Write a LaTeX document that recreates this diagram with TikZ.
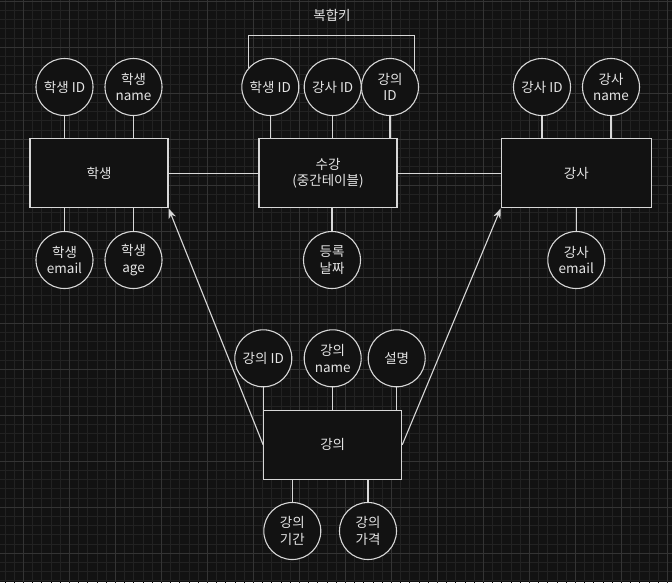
\documentclass[tikz,border=0pt]{standalone}
\usepackage{fontspec}
\setmainfont{Noto Sans CJK KR}
\usetikzlibrary{arrows.meta}
\definecolor{fondo}{RGB}{18,18,18}
\definecolor{rejilla}{RGB}{34,34,34}
\definecolor{rejillamayor}{RGB}{52,52,52}
\definecolor{trazo}{RGB}{215,215,215}
\definecolor{letra}{RGB}{228,228,228}
\begin{document}
\begin{tikzpicture}[x=1pt, y=-1pt,
        entidad/.style={draw=trazo, fill=fondo, line width=1.1pt, text=letra, align=center,
        minimum width=138pt, minimum height=69pt, inner sep=0pt,
        font=\fontsize{13.5}{16.5}\selectfont},
        atributo/.style={circle, draw=trazo, fill=fondo, line width=1.1pt, text=letra, align=center,
        minimum size=57pt, inner sep=0pt, font=\fontsize{13.5}{16.5}\selectfont},
        linea/.style={draw=trazo, line width=1.1pt},
        flecha/.style={linea, -{Stealth[length=10pt, width=7.5pt, inset=3pt]}}
    ]
        \useasboundingbox (0,0) rectangle (672,582);
        \fill[fondo] (0,0) rectangle (672,582);
        \begin{scope}[shift={(23.3,1)}]
            \clip (-23.3,-1) rectangle (648.7,581);
            \draw[rejilla, line width=0.6pt] (-46,-46) grid[step=9.2pt] (690,600);
            \draw[rejillamayor, line width=0.7pt] (-46,-46) grid[step=46pt] (690,600);
        \end{scope}
        % entidades
        \node[entidad] (alumno) at (99,173.3) {학생};
        \node[entidad] (inscripcion) at (328,173.3) {수강\\(중간테이블)};
        \node[entidad, minimum width=150pt] (profesor) at (576.3,173.3) {강사};
        \node[entidad] (curso) at (332.7,444.8) {강의};
        % atributos
        \node[atributo] (aid) at (64.5,87) {학생 ID};
        \node[atributo] (anombre) at (133.5,87) {학생\\name};
        \node[atributo] (acorreo) at (64.5,260) {학생\\email};
        \node[atributo] (aedad) at (133.5,260) {학생\\age};
        \node[atributo] (iaid) at (270.3,87) {학생 ID};
        \node[atributo] (ipid) at (332.7,87) {강사 ID};
        \node[atributo] (icid) at (390,87) {강의\\ID};
        \node[atributo] (ifecha) at (332,260) {등록\\날짜};
        \node[atributo] (pid) at (542,87) {강사 ID};
        \node[atributo] (pnombre) at (611,87) {강사\\name};
        \node[atributo] (pcorreo) at (576.3,260) {강사\\email};
        \node[atributo] (cid) at (263.3,358.3) {강의 ID};
        \node[atributo] (cnombre) at (332.7,358.3) {강의\\name};
        \node[atributo] (cdesc) at (396.7,358.3) {설명};
        \node[atributo] (cduracion) at (292.3,531) {강의\\기간};
        \node[atributo] (cprecio) at (368,531) {강의\\가격};
        \node[text=letra, font=\fontsize{13.5}{16.5}\selectfont] (clave) at (332,15) {복합키};
        % uniones
        \draw[linea] (aid) -- (aid |- alumno.north);
        \draw[linea] (anombre) -- (anombre |- alumno.north);
        \draw[linea] (acorreo) -- (acorreo |- alumno.south);
        \draw[linea] (aedad) -- (aedad |- alumno.south);
        \draw[linea] (iaid) -- (iaid |- inscripcion.north);
        \draw[linea] (ipid) -- (ipid |- inscripcion.north);
        \draw[linea] (icid) -- (icid |- inscripcion.north);
        \draw[linea] (ifecha) -- (ifecha |- inscripcion.south);
        \draw[linea] (pid) -- (pid |- profesor.north);
        \draw[linea] (pnombre) -- (pnombre |- profesor.north);
        \draw[linea] (pcorreo) -- (pcorreo |- profesor.south);
        \draw[linea] (cid) -- (cid |- curso.north);
        \draw[linea] (cnombre) -- (cnombre |- curso.north);
        \draw[linea] (cdesc) -- (cdesc |- curso.north);
        \draw[linea] (cduracion) -- (cduracion |- curso.south);
        \draw[linea] (cprecio) -- (cprecio |- curso.south);
        \draw[linea] (alumno) -- (inscripcion);
        \draw[linea] (inscripcion) -- (profesor);
        \draw[linea] (iaid.139) -- ++(0,-32.4) -| (icid.33);
        \draw[flecha] (curso.west) -- (alumno.south east);
        \draw[flecha] (curso.east) -- (profesor.south west);
    \end{tikzpicture}
\end{document}
